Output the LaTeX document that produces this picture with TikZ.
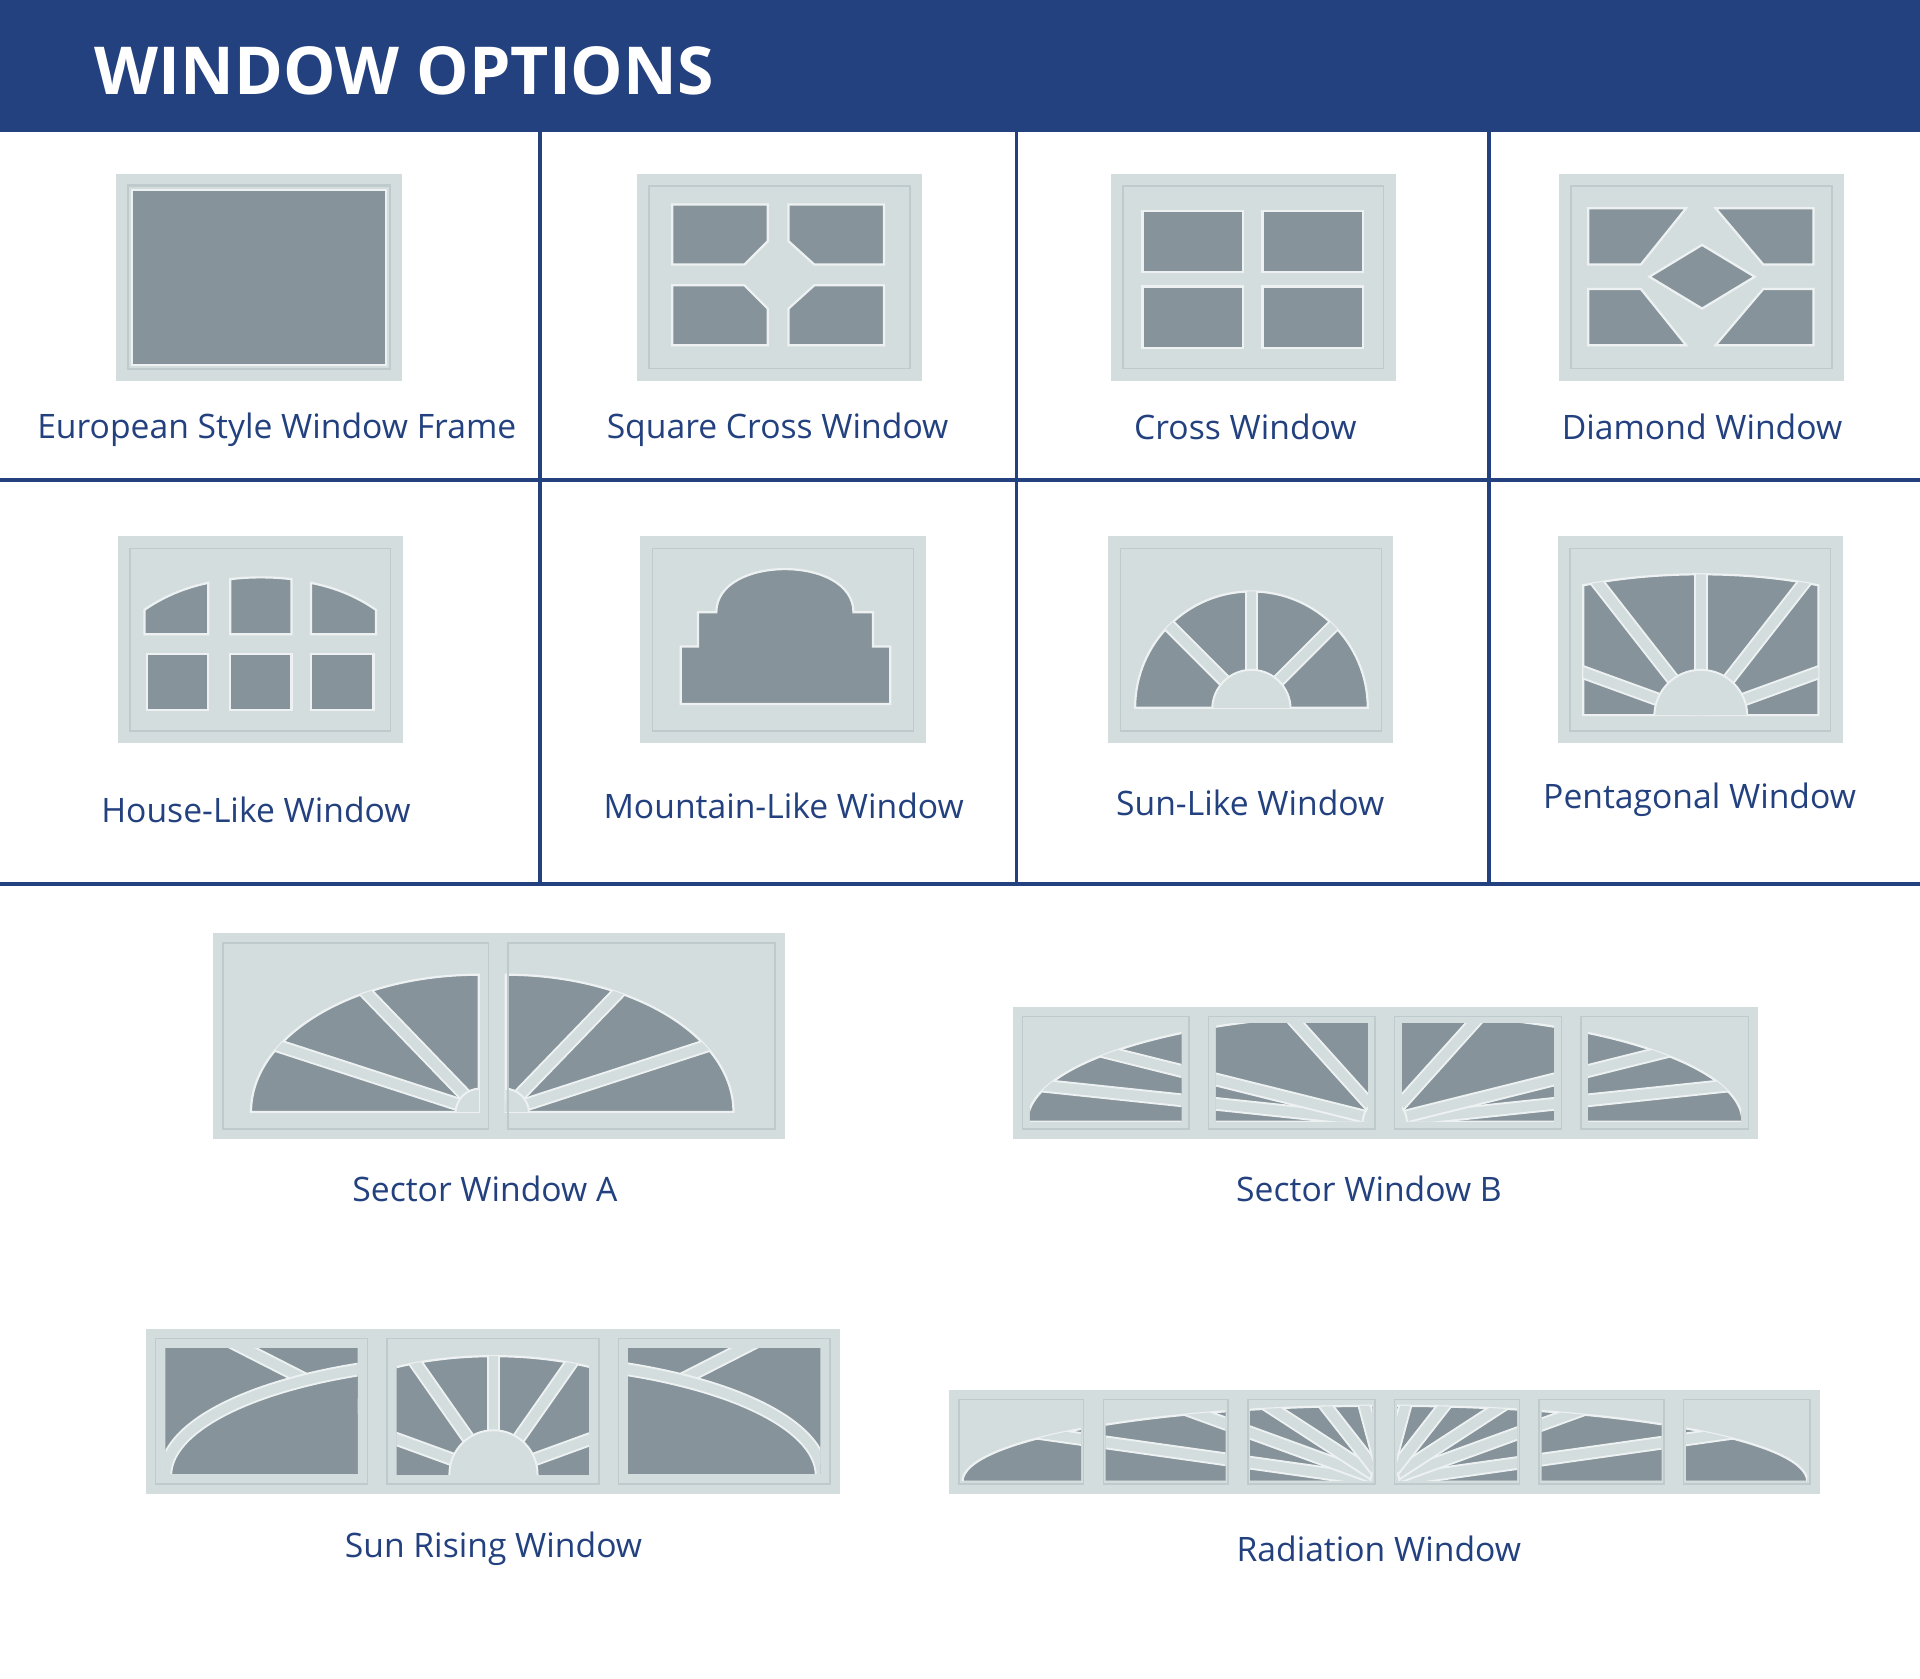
\documentclass[tikz,border=0pt]{standalone}
\usepackage{fontspec}
\setmainfont{Open Sans}
\definecolor{hdr}{HTML}{23417F}
\definecolor{txt}{HTML}{23417F}
\definecolor{fr}{HTML}{D4DDDE}
\definecolor{edge}{HTML}{EDF1F1}
\definecolor{insl}{HTML}{BFCACC}
\definecolor{gl}{HTML}{86939A}
\tikzset{
  frm/.style={fill=fr},
  ins/.style={draw=insl,line width=1.2},
  gls/.style={fill=gl,draw=edge,line width=1.8},
  mul/.style={draw=edge,double=fr,double distance=8,line width=1.6},
  hub/.style={fill=fr,draw=edge,line width=1.6},
  lab/.style={text=txt,font=\fontsize{27.5}{32}\selectfont},
  grid/.style={draw=hdr,line width=3}
}
\newcommand\wframe[2]{\fill[frm] (#1,#2) rectangle ++(233,169); \draw[ins] (#1+10,#2+10) rectangle ++(213,149);}
\newcommand\pnl[4]{\fill[frm] (#1,#2) rectangle (#3,#4); \draw[ins] (#1+8,#2+8) rectangle (#3-8,#4-8);}
\begin{document}
\begin{tikzpicture}[x=1pt,y=-1pt]
\useasboundingbox (0,0) rectangle (1568,1371);
\fill[white] (0,0) rectangle (1568,1371);
\fill[hdr] (0,0) rectangle (1568,108);
\node[anchor=west,text=white,font=\bfseries\fontsize{54}{64}\selectfont] (title) at (74,58) {WINDOW OPTIONS};
% grid
\draw[grid] (0,392) -- (1568,392);
\draw[grid] (0,722) -- (1568,722);
\foreach \x in {441,830,1216} \draw[grid] (\x,108) -- (\x,722);

% W1 European
\wframe{95}{142}
\filldraw[gls] (108,155) rectangle (315,298);
\draw[insl,line width=1] (104,151) rectangle (319,302);

% W2 Square cross
\begin{scope}[shift={(520,142)}]
\wframe{0}{0}
\filldraw[gls] (29,25) -- (107,25) -- (107,55) -- (88,74) -- (29,74) -- cycle;
\filldraw[gls] (124,25) -- (202,25) -- (202,74) -- (145,74) -- (124,55) -- cycle;
\filldraw[gls] (29,91) -- (88,91) -- (107,110) -- (107,140) -- (29,140) -- cycle;
\filldraw[gls] (145,91) -- (202,91) -- (202,140) -- (124,140) -- (124,110) -- cycle;
\end{scope}

% W3 Cross
\begin{scope}[shift={(907,142)}]
\wframe{0}{0}
\filldraw[gls] (26,30) rectangle (108,80);
\filldraw[gls] (124,30) rectangle (206,80);
\filldraw[gls] (26,92) rectangle (108,142);
\filldraw[gls] (124,92) rectangle (206,142);
\end{scope}

% W4 Diamond
\begin{scope}[shift={(1273,142)}]
\wframe{0}{0}
\filldraw[gls] (24,28) -- (104,28) -- (67,74) -- (24,74) -- cycle;
\filldraw[gls] (128,28) -- (208,28) -- (208,74) -- (167,74) -- cycle;
\filldraw[gls] (24,94) -- (67,94) -- (104,140) -- (24,140) -- cycle;
\filldraw[gls] (167,94) -- (208,94) -- (208,140) -- (128,140) -- cycle;
\filldraw[gls] (117,58) -- (160,84) -- (117,110) -- (74,84) -- cycle;
\end{scope}

% W5 House
\begin{scope}[shift={(96,438)}]
\wframe{0}{0}
\filldraw[gls] (24,96) rectangle (74,142);
\filldraw[gls] (92,96) rectangle (142,142);
\filldraw[gls] (158,96) rectangle (209,142);
\filldraw[gls] (22,80) -- (22,60) .. controls (38,49) and (55,42) .. (74,38) -- (74,80) -- cycle;
\filldraw[gls] (92,80) -- (92,35) .. controls (108,33) and (126,33) .. (142,35) -- (142,80) -- cycle;
\filldraw[gls] (211,80) -- (211,60) .. controls (195,49) and (178,42) .. (158,38) -- (158,80) -- cycle;
\end{scope}

% W6 Mountain
\begin{scope}[shift={(523,438)}]
\wframe{0}{0}
\filldraw[gls] (33,137) -- (33,90) -- (47,90) -- (47,62) -- (62,62) .. controls (62,15) and (174,15) .. (174,62) -- (190,62) -- (190,90) -- (204,90) -- (204,137) -- cycle;
\end{scope}

% W7 Sun-like
\begin{scope}[shift={(905,438)}]
\wframe{0}{0}
\def\gp{(22,140) arc[start angle=180,end angle=360,radius=95] -- cycle}
\filldraw[gls] \gp;
\begin{scope}
\clip \gp;
\foreach \a in {-45,-90,-135} \draw[mul] (117,140) -- ++(\a:110);
\filldraw[hub] (117,141) circle (32);
\end{scope}
\end{scope}

% W8 Pentagonal
\begin{scope}[shift={(1272,438)}]
\wframe{0}{0}
\def\gp{(21,146) -- (21,40) .. controls (80,28) and (154,28) .. (213,40) -- (213,146) -- cycle}
\filldraw[gls] \gp;
\begin{scope}
\clip \gp;
\foreach \a in {-160,-128,-90,-52,-20} \draw[mul] (117,146) -- ++(\a:160);
\filldraw[hub] (117,147) circle (38);
\end{scope}
\end{scope}

% Sector A
\pnl{174}{762}{407}{930}
\pnl{407}{762}{641}{930}
\def\gp{(205,908) arc[start angle=180,end angle=270,x radius=186,y radius=112] -- (391,908) -- cycle}
\filldraw[gls] \gp;
\begin{scope}
\clip \gp;
\foreach \a in {-162,-134} \draw[mul] (393,908) -- ++(\a:220);
\filldraw[hub] (392,909) circle (20);
\end{scope}
\def\gp{(413,796) arc[start angle=-90,end angle=0,x radius=186,y radius=112] -- (413,908) -- cycle}
\filldraw[gls] \gp;
\begin{scope}
\clip \gp;
\foreach \a in {-18,-46} \draw[mul] (411,908) -- ++(\a:220);
\filldraw[hub] (412,909) circle (20);
\end{scope}
\draw[ins] (182,770) rectangle (399,922);
\draw[ins] (415,770) rectangle (633,922);

% Sector B
\foreach \a/\b in {827/979,979/1131,1131/1283,1283/1436}{
  \pnl{\a}{822}{\b}{930}
  \begin{scope}
  \clip (\a+14,836) rectangle (\b-14,916);
  \def\gp{(839,916) arc[start angle=180,end angle=360,x radius=292,y radius=88] -- cycle}
  \filldraw[gls] \gp;
  \clip \gp;
  \foreach \s in {-174,-166,-132,-6,-14,-48} \draw[mul] (1131,916) -- ++(\s:320);
  \filldraw[hub] (1131,916) circle (18);
  \end{scope}
}

% Sun Rising
\pnl{119}{1085}{308}{1220}
\pnl{308}{1085}{497}{1220}
\pnl{497}{1085}{686}{1220}
\begin{scope}
\clip (135,1101) rectangle (292,1203);
\filldraw[gls] (130,1095) rectangle (297,1208);
\draw[mul] (403,1205) -- ++(-153:300);
\fill[gl] (135,1205) arc[start angle=180,end angle=270,x radius=268,y radius=95] -- (403,1205) -- cycle;
\draw[mul] (135,1205) arc[start angle=180,end angle=270,x radius=268,y radius=95];
\end{scope}
\begin{scope}
\clip (513,1101) rectangle (670,1203);
\filldraw[gls] (508,1095) rectangle (675,1208);
\draw[mul] (403,1205) -- ++(-27:300);
\fill[gl] (671,1205) arc[start angle=0,end angle=-90,x radius=268,y radius=95] -- (403,1205) -- cycle;
\draw[mul] (671,1205) arc[start angle=0,end angle=-90,x radius=268,y radius=95];
\end{scope}
\begin{scope}
\clip (324,1101) rectangle (481,1204);
\def\gp{(318,1208) -- (318,1118) .. controls (370,1104) and (436,1104) .. (488,1118) -- (488,1208) -- cycle}
\filldraw[gls] \gp;
\clip \gp;
\foreach \a in {-160,-125,-90,-55,-20} \draw[mul] (403,1204) -- ++(\a:150);
\filldraw[hub] (403,1204) circle (36);
\end{scope}

% Radiation
\foreach \a/\b in {775/893,893/1011,1011/1131,1131/1249,1249/1367,1367/1486}{
  \pnl{\a}{1135}{\b}{1220}
  \begin{scope}
  \clip (\a+10,1147) rectangle (\b-10,1209);
  \def\gp{(786,1210) arc[start angle=180,end angle=360,x radius=345,y radius=62] -- cycle}
  \filldraw[gls] \gp;
  \clip \gp;
  \foreach \s in {-172,-160,-147,-128,-105,-8,-20,-33,-52,-75} \draw[mul] (1131,1210) -- ++(\s:380);
  \filldraw[hub] (1131,1210) circle (12);
  \end{scope}
}

% labels
\node[lab] (l1) at (226,351) {European Style Window Frame};
\node[lab] (l2) at (635,351) {Square Cross Window};
\node[lab] (l3) at (1017,349) {Cross Window};
\node[lab] (l4) at (1390,349) {Diamond Window};
\node[lab] (l5) at (209,661) {House-Like Window};
\node[lab] (l6) at (640,658) {Mountain-Like Window};
\node[lab] (l7) at (1021,656) {Sun-Like Window};
\node[lab] (l8) at (1388,653) {Pentagonal Window};
\node[lab] (l9) at (396,971) {Sector Window A};
\node[lab] (l10) at (1118,971) {Sector Window B};
\node[lab] (l11) at (403,1265) {Sun Rising Window};
\node[lab] (l12) at (1126,1265) {Radiation Window};
\end{tikzpicture}
\end{document}
